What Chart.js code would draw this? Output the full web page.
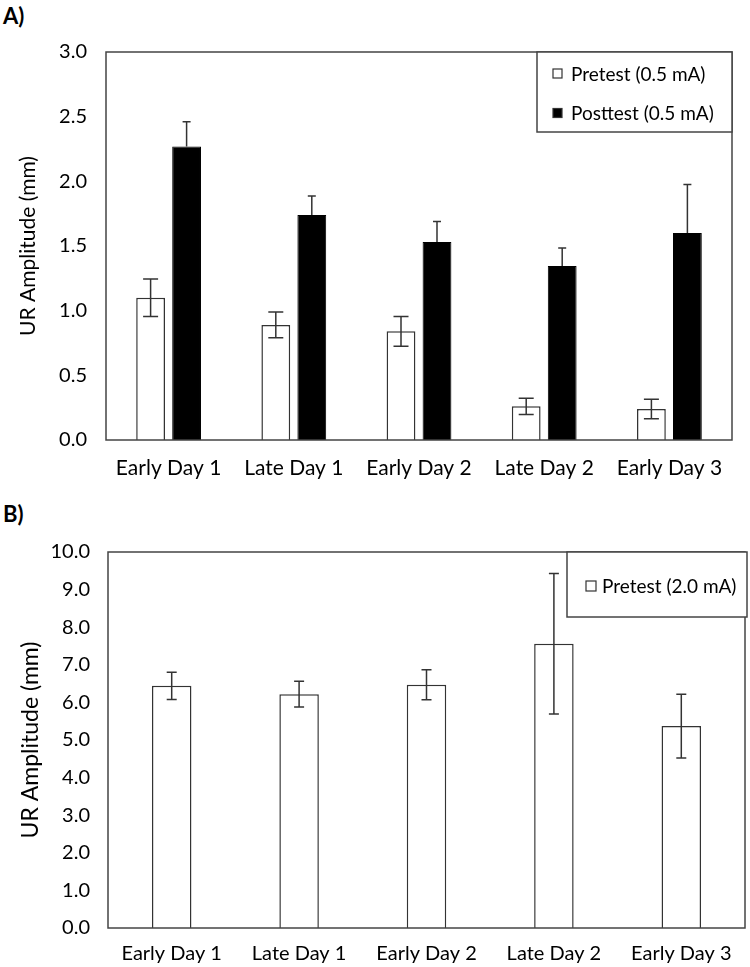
<!DOCTYPE html>
<html>
<head>
<meta charset="utf-8">
<script src="https://cdn.jsdelivr.net/npm/chart.js@4"></script>
<style>
  html, body { margin:0; padding:0; background:#fff; width:750px; height:967px; overflow:hidden; }
  .wrap { position:absolute; left:0; width:750px; }
  .panel { position:absolute; left:3px; font-family: Lato, sans-serif; font-weight:bold; font-size:22px; color:#000; }
</style>
</head>
<body>
<div class="panel" style="top:2px;">A)</div>
<div class="panel" style="top:500px;">B)</div>
<div class="wrap" style="top:0;height:480px;"><canvas id="cA" width="750" height="480"></canvas></div>
<div class="wrap" style="top:480px;height:487px;"><canvas id="cB" width="750" height="487"></canvas></div>
<script>
// ---------- data ----------
const categories = ["Early Day 1", "Late Day 1", "Early Day 2", "Late Day 2", "Early Day 3"];
const yTicksA = [0, 0.5, 1.0, 1.5, 2.0, 2.5, 3.0];
const yTicksB = [0, 1, 2, 3, 4, 5, 6, 7, 8, 9, 10];

const preA  = [1.10, 0.89, 0.84, 0.26, 0.24];
const preAErr  = [0.145, 0.10, 0.115, 0.062, 0.075];
const postA = [2.27, 1.74, 1.53, 1.345, 1.60];
const postAErr = [0.19, 0.147, 0.16, 0.14, 0.375];

const preB  = [6.44, 6.22, 6.47, 7.56, 5.37];
const preBErr  = [0.365, 0.345, 0.40, 1.87, 0.85];

const labelPreA = "Pretest (0.5 mA)";
const labelPostA = "Posttest (0.5 mA)";
const labelPreB = "Pretest (2.0 mA)";
const yTitle = "UR Amplitude (mm)";

const FONT = "Lato, 'Open Sans', sans-serif";
const INK = "#333333";
const TXT = "#000000";

// ---------- plugins ----------
const errorBars = {
  id: 'errorBars',
  afterDatasetsDraw(chart) {
    const ctx = chart.ctx;
    const y = chart.scales.y;
    chart.data.datasets.forEach((ds, i) => {
      if (!ds.errors) return;
      const meta = chart.getDatasetMeta(i);
      meta.data.forEach((bar, j) => {
        const v = ds.data[j], e = ds.errors[j];
        const yt = y.getPixelForValue(v + e);
        const yb = ds.errPlusOnly ? y.getPixelForValue(v) : y.getPixelForValue(v - e);
        const x = bar.x, c = ds.errCap / 2;
        ctx.save();
        ctx.strokeStyle = INK;
        ctx.lineWidth = 1.5;
        ctx.beginPath();
        ctx.moveTo(x, yt); ctx.lineTo(x, yb);
        ctx.moveTo(x - c, yt); ctx.lineTo(x + c, yt);
        if (!ds.errPlusOnly) { ctx.moveTo(x - c, yb); ctx.lineTo(x + c, yb); }
        ctx.stroke();
        ctx.restore();
      });
    });
  }
};

const frame = {
  id: 'frame',
  afterDatasetsDraw(chart) {
    const {ctx, chartArea: a} = chart;
    ctx.save();
    ctx.strokeStyle = "#444";
    ctx.lineWidth = 1.5;
    ctx.strokeRect(a.left, a.top, a.right - a.left, a.bottom - a.top);
    ctx.restore();
  }
};

const boxLegend = {
  id: 'boxLegend',
  afterDraw(chart, args, opts) {
    const ctx = chart.ctx;
    const b = opts.box;
    ctx.save();
    ctx.fillStyle = "#fff";
    ctx.fillRect(b.x, b.y, b.w, b.h);
    ctx.strokeStyle = "#444";
    ctx.lineWidth = 1.5;
    ctx.strokeRect(b.x, b.y, b.w, b.h);
    ctx.font = opts.font;
    ctx.textBaseline = 'middle';
    chart.data.datasets.forEach((ds, i) => {
      const cy = opts.rowY[i];
      const s = opts.sw;
      ctx.fillStyle = ds.backgroundColor;
      ctx.fillRect(opts.sx, cy - s / 2, s, s);
      ctx.strokeStyle = INK;
      ctx.lineWidth = 1.2;
      ctx.strokeRect(opts.sx, cy - s / 2, s, s);
      ctx.fillStyle = TXT;
      ctx.fillText(ds.label, opts.tx, cy + 1);
    });
    ctx.restore();
  }
};

function makeChart(id, datasets, ticks, cfg) {
  return new Chart(document.getElementById(id), {
    type: 'bar',
    data: { labels: categories, datasets },
    plugins: [errorBars, frame, boxLegend],
    options: {
      responsive: false,
      animation: false,
      devicePixelRatio: 1,
      layout: { padding: cfg.padding },
      plugins: {
        legend: { display: false },
        tooltip: { enabled: false },
        boxLegend: cfg.legend
      },
      scales: {
        x: {
          grid: { display: false, drawTicks: false },
          border: { display: false },
          ticks: { color: TXT, font: { family: FONT, size: cfg.xFont }, padding: cfg.xPad, maxRotation: 0 },
          afterFit(s) { s.height = cfg.xHeight; }
        },
        y: {
          min: ticks[0], max: ticks[ticks.length - 1],
          afterBuildTicks(s) { s.ticks = ticks.map(v => ({ value: v })); },
          grid: { display: false, drawTicks: false },
          border: { display: false },
          ticks: { color: TXT, font: { family: FONT, size: cfg.yFont }, padding: cfg.yPad,
                   callback: v => Number(v).toFixed(1) },
          title: { display: true, text: yTitle, color: TXT,
                   font: { family: FONT, size: cfg.titleFont }, padding: { top: cfg.titlePad, bottom: 0 } },
          afterFit(s) { s.width = cfg.yWidth; }
        }
      }
    }
  });
}

makeChart('cA', [
  { label: labelPreA, data: preA, errors: preAErr, errCap: 15, errPlusOnly: false,
    backgroundColor: "#ffffff", borderColor: INK, borderWidth: 1.5,
    categoryPercentage: 0.575, barPercentage: 0.8 },
  { label: labelPostA, data: postA, errors: postAErr, errCap: 8, errPlusOnly: true,
    backgroundColor: "#000000", borderColor: "#000", borderWidth: 1,
    categoryPercentage: 0.575, barPercentage: 0.8 }
], yTicksA, {
  padding: { top: 52, right: 18, left: 0, bottom: 0 },
  xFont: 21, xPad: 16, xHeight: 40,
  yFont: 20, yPad: 19, yWidth: 106,
  titleFont: 21, titlePad: 16,
  legend: { box: { x: 537, y: 52, w: 195, h: 80 }, sx: 553, sw: 9, tx: 571, rowY: [73.5, 113],
            font: "19px " + FONT }
});

makeChart('cB', [
  { label: labelPreB, data: preB, errors: preBErr, errCap: 10, errPlusOnly: false,
    backgroundColor: "#ffffff", borderColor: INK, borderWidth: 1.5,
    categoryPercentage: 0.62, barPercentage: 0.5 }
], yTicksB, {
  padding: { top: 72, right: 5, left: 0, bottom: 0 },
  xFont: 20, xPad: 14, xHeight: 39,
  yFont: 20, yPad: 18, yWidth: 108,
  titleFont: 23, titlePad: 17,
  legend: { box: { x: 567, y: 72, w: 180, h: 65 }, sx: 586, sw: 10, tx: 602, rowY: [106],
            font: "19px " + FONT }
});
</script>
</body>
</html>
